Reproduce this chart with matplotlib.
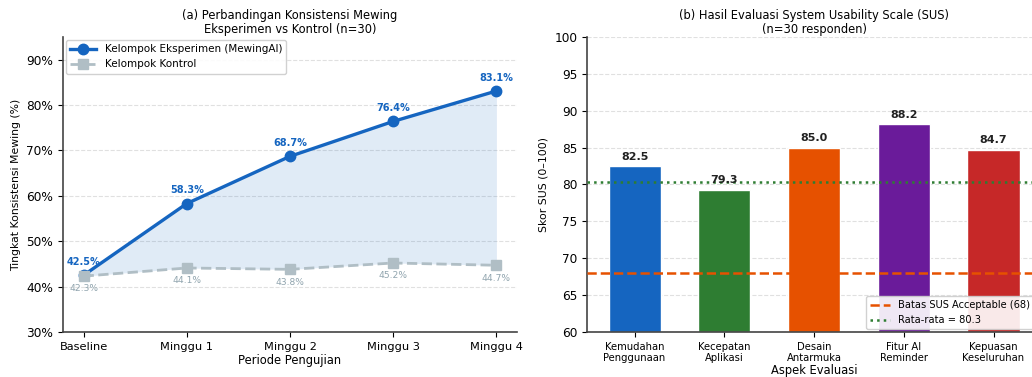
import matplotlib
matplotlib.use("Agg")
import matplotlib.pyplot as plt
from matplotlib.ticker import FuncFormatter

# Panel (a): weekly mewing consistency
periods = ["Baseline", "Minggu 1", "Minggu 2", "Minggu 3", "Minggu 4"]
eksperimen = [42.5, 58.3, 68.7, 76.4, 83.1]
kontrol = [42.3, 44.1, 43.8, 45.2, 44.7]

# Panel (b): SUS scores per aspect
aspek = ["Kemudahan\nPenggunaan", "Kecepatan\nAplikasi", "Desain\nAntarmuka",
         "Fitur AI\nReminder", "Kepuasan\nKeseluruhan"]
skor_sus = [82.5, 79.3, 85.0, 88.2, 84.7]
bar_colors = ["#1565C0", "#2E7D32", "#E65100", "#6A1B9A", "#C62828"]
batas_acceptable = 68
rata_rata = 80.3

plt.rcParams["font.family"] = ["DejaVu Sans"]

fig = plt.figure(figsize=(10.32, 3.77), dpi=100)
ax1 = fig.add_axes([0.061, 0.1194, 0.440, 0.7825])
ax2 = fig.add_axes([0.5688, 0.1194, 0.440, 0.7825])

blue = "#1565C0"
grey = "#B0BEC5"
x = list(range(len(periods)))

ax1.fill_between(x, kontrol, eksperimen, color=blue, alpha=0.13, linewidth=0)
ax1.plot(x, eksperimen, color=blue, lw=2.4, marker="o", ms=7.5,
         label="Kelompok Eksperimen (MewingAI)", zorder=3)
ax1.plot(x, kontrol, color=grey, lw=2.0, ls="--", marker="s", ms=6.5,
         label="Kelompok Kontrol", zorder=3)
for xi, v in zip(x, eksperimen):
    ax1.annotate(f"{v:.1f}%", (xi, v), xytext=(0, 6), textcoords="offset points",
                 ha="center", va="bottom", fontsize=7, fontweight="bold", color=blue)
for xi, v in zip(x, kontrol):
    ax1.annotate(f"{v:.1f}%", (xi, v), xytext=(0, -6), textcoords="offset points",
                 ha="center", va="top", fontsize=6.6, color="#90A4AE")

ax1.set_xticks(x)
ax1.set_xticklabels(periods, fontsize=8.2)
ax1.set_ylim(30, 95)
ax1.set_xlim(-0.2, 4.2)
ax1.set_yticks([30, 40, 50, 60, 70, 80, 90])
ax1.yaxis.set_major_formatter(FuncFormatter(lambda v, p: f"{v:.0f}%"))
ax1.tick_params(axis="y", labelsize=8.7)
ax1.set_xlabel("Periode Pengujian", fontsize=8.3, labelpad=2)
ax1.set_ylabel("Tingkat Konsistensi Mewing (%)", fontsize=7.8)
ax1.set_title("(a) Perbandingan Konsistensi Mewing\nEksperimen vs Kontrol (n=30)",
              fontsize=8.3, linespacing=1.05, pad=3)
ax1.grid(axis="y", ls="--", color="#cccccc", alpha=0.6, lw=0.8)
ax1.set_axisbelow(True)
ax1.legend(loc="upper left", fontsize=7.5, frameon=True, framealpha=0.9,
           borderaxespad=0.3, handlelength=2.5)

bx = list(range(len(aspek)))
ax2.bar(bx, [s - 60 for s in skor_sus], bottom=60, width=0.58,
        color=bar_colors, edgecolor="white", linewidth=1.0, zorder=2)
for xi, v in zip(bx, skor_sus):
    ax2.text(xi, v + 0.6, f"{v:.1f}", ha="center", va="bottom", fontsize=8,
             fontweight="bold", color="#222222", zorder=4)
ax2.axhline(batas_acceptable, color="#E65100", ls="--", lw=1.8, zorder=3,
            label=f"Batas SUS Acceptable ({batas_acceptable})")
ax2.axhline(rata_rata, color="#2E7D32", ls=":", lw=1.8, zorder=3,
            label=f"Rata-rata = {rata_rata}")
ax2.set_xticks(bx)
ax2.set_xticklabels(aspek, fontsize=7.2, linespacing=1.15)
ax2.set_ylim(60, 100)
ax2.set_xlim(-0.53, 4.53)
ax2.set_yticks(range(60, 101, 5))
ax2.tick_params(axis="y", labelsize=8.7)
ax2.set_xlabel("Aspek Evaluasi", fontsize=8.3, labelpad=1)
ax2.set_ylabel("Skor SUS (0\u2013100)", fontsize=7.8)
ax2.set_title("(b) Hasil Evaluasi System Usability Scale (SUS)\n(n=30 responden)",
              fontsize=8.3, linespacing=1.05, pad=3)
ax2.grid(axis="y", ls="--", color="#cccccc", alpha=0.6, lw=0.8)
ax2.set_axisbelow(True)
ax2.legend(loc="lower right", bbox_to_anchor=(0.99, 0.0), fontsize=7.1,
           frameon=True, framealpha=0.9, borderaxespad=0.3)

for ax in (ax1, ax2):
    ax.spines["top"].set_visible(False)
    ax.spines["right"].set_visible(False)
    ax.spines["left"].set_color("#444444")
    ax.spines["bottom"].set_color("#444444")
    ax.spines["left"].set_linewidth(1.2)
    ax.spines["bottom"].set_linewidth(1.2)

fig.savefig("out.png", dpi=100)
